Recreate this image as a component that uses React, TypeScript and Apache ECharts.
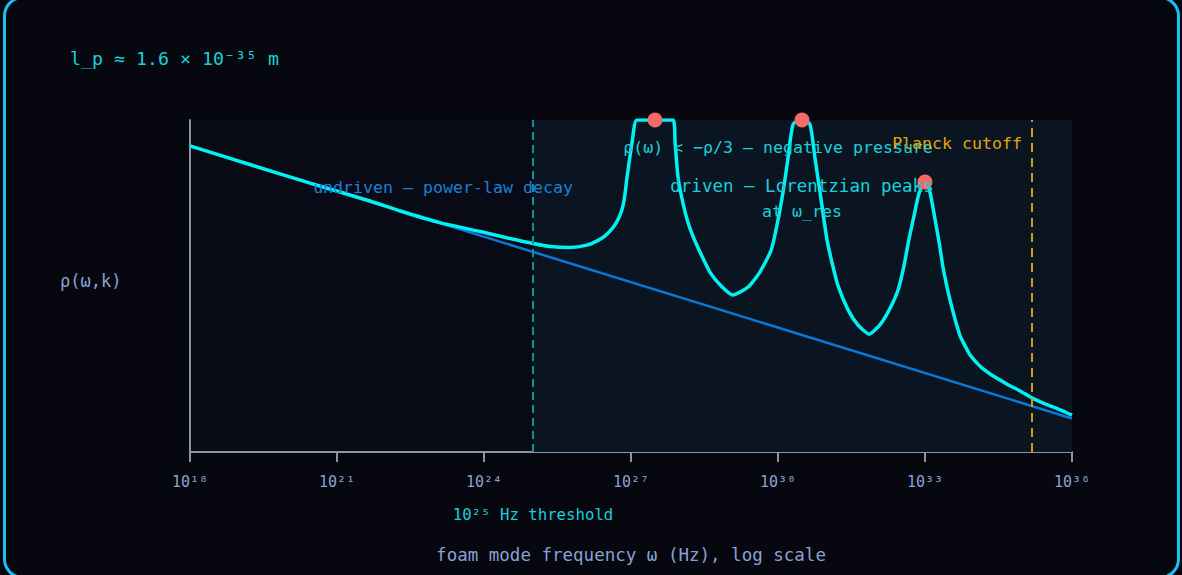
import React, { useEffect, useRef } from 'react';
import * as echarts from 'echarts';

// x = log10(ω / Hz), y = relative spectral density (arbitrary units, 0..100)
const xTicks = [18, 21, 24, 27, 30, 33, 36];
const xTickLabels = ['10¹⁸', '10²¹', '10²⁴', '10²⁷', '10³⁰', '10³³', '10³⁶'];

const undriven: [number, number][] = [
  [18, 92.2],
  [36, 10.1],
];

const driven: [number, number][] = [
  [18, 92.2], [19.22, 86.6], [20.45, 81.0], [21.67, 75.6], [22.29, 72.6],
  [23.1, 69.1], [23.92, 66.4], [24.53, 64.3], [25.0, 62.8], [25.35, 61.9],
  [25.76, 61.6], [26.1, 62.3], [26.31, 63.6], [26.47, 65.1], [26.61, 67.2],
  [26.71, 69.3], [26.8, 72.3], [26.86, 75.9], [26.92, 82.8], [27.02, 93.1],
  [27.12, 100], [27.49, 100], [27.86, 100], [27.9, 93.1], [27.96, 82.8],
  [28.06, 75.0], [28.16, 69.3], [28.27, 64.8], [28.41, 60.2], [28.61, 54.2],
  [28.84, 50.0], [29.08, 47.3], [29.39, 49.7], [29.63, 54.2], [29.86, 60.8],
  [29.98, 68.4], [30.1, 78.0], [30.2, 88.0], [30.31, 98.8], [30.49, 100],
  [30.65, 98.8], [30.76, 88.0], [30.86, 78.0], [31.0, 63.9], [31.1, 57.2],
  [31.22, 50.3], [31.43, 42.8], [31.63, 38.3], [31.86, 35.5], [32.08, 38.3],
  [32.27, 42.8], [32.45, 48.8], [32.57, 56.0], [32.67, 63.9], [32.78, 71.4],
  [32.88, 78.0], [33.0, 81.6], [33.1, 78.3], [33.2, 70.5], [33.29, 63.0],
  [33.37, 55.4], [33.51, 45.8], [33.71, 35.2], [33.82, 31.9], [33.92, 29.2],
  [34.12, 25.9], [34.33, 23.5], [34.53, 21.7], [34.74, 19.9], [34.94, 18.4],
  [35.18, 16.3], [35.45, 14.5], [35.76, 12.7], [36.0, 11.1],
];

const peaks: [number, number][] = [
  [27.49, 100],
  [30.49, 100],
  [33.0, 81.3],
];

const thresholdLog = 25;
const planckLog = 35.18;

const FONT = '"DejaVu Sans Mono", "Liberation Mono", monospace';
const CYAN_TEXT = '#19d0dc';
const AXIS_TEXT = '#8ba1d2';
const AXIS_LINE = '#8c95a8';

export default function App() {
  const chartRef = useRef<HTMLDivElement>(null);

  useEffect(() => {
    if (!chartRef.current) return;
    const chart = echarts.init(chartRef.current, undefined, { renderer: 'svg' });

    const text = (
      x: number,
      y: number,
      t: string,
      fill: string,
      fontSize: number,
      align: 'left' | 'center' | 'right' = 'left',
    ) => ({
      type: 'text',
      x,
      y,
      z: 50,
      style: {
        text: t,
        fill,
        fontSize,
        fontFamily: FONT,
        align,
        verticalAlign: 'middle',
      },
    });

    chart.setOption({
      animation: false,
      backgroundColor: 'transparent',
      grid: {
        left: 190,
        right: 110,
        top: 120,
        bottom: 123,
        show: true,
        backgroundColor: '#080a16',
        borderWidth: 0,
      },
      xAxis: {
        type: 'value',
        min: 18,
        max: 36,
        interval: 3,
        axisLine: { show: true, onZero: false, lineStyle: { color: AXIS_LINE, width: 2 } },
        axisTick: { show: true, length: 10, lineStyle: { color: AXIS_LINE, width: 2 } },
        splitLine: { show: false },
        axisLabel: {
          color: AXIS_TEXT,
          fontSize: 15,
          fontFamily: FONT,
          margin: 22,
          formatter: (v: number) => {
            const i = xTicks.indexOf(Math.round(v));
            return i >= 0 ? xTickLabels[i] : '';
          },
        },
      },
      yAxis: {
        type: 'value',
        min: 0,
        max: 100,
        axisLine: { show: true, lineStyle: { color: AXIS_LINE, width: 2 } },
        axisTick: { show: false },
        axisLabel: { show: false },
        splitLine: { show: false },
      },
      series: [
        {
          name: 'undriven',
          type: 'line',
          data: undriven,
          symbol: 'none',
          z: 3,
          lineStyle: { color: '#0b78d6', width: 2.5 },
          markArea: {
            silent: true,
            itemStyle: { color: '#0a1521' },
            data: [[{ xAxis: thresholdLog }, { xAxis: 36 }]],
          },
          markLine: {
            silent: true,
            symbol: 'none',
            label: { show: false },
            data: [
              { xAxis: thresholdLog, lineStyle: { color: '#11909c', width: 2, type: [8, 5] } },
              { xAxis: planckLog, lineStyle: { color: '#d69c10', width: 2, type: [9, 6] } },
            ],
          },
        },
        {
          name: 'driven',
          type: 'line',
          data: driven,
          symbol: 'none',
          smooth: 0.2,
          z: 4,
          lineStyle: { color: '#00f2f2', width: 3.5 },
        },
        {
          name: 'ω_res',
          type: 'scatter',
          data: peaks,
          symbolSize: 15,
          z: 5,
          itemStyle: { color: '#f36a6a', opacity: 1 },
        },
      ],
      graphic: [
        text(70, 58, 'l_p ≈ 1.6 × 10⁻³⁵ m', CYAN_TEXT, 18.3),
        text(60, 281, 'ρ(ω,k)', AXIS_TEXT, 17),
        text(443, 187, 'undriven — power-law decay', '#1b80d6', 16.6, 'center'),
        text(778, 147, 'ρ(ω) < −ρ/3 — negative pressure', CYAN_TEXT, 16.6, 'center'),
        text(802, 186, 'driven — Lorentzian peaks', CYAN_TEXT, 17.5, 'center'),
        text(802, 211, 'at ω_res', CYAN_TEXT, 16.6, 'center'),
        text(1022, 143, 'Planck cutoff', '#e0a50c', 16.6, 'right'),
        text(533, 514, '10²⁵ Hz threshold', CYAN_TEXT, 15.7, 'center'),
        text(631, 555, 'foam mode frequency ω (Hz), log scale', AXIS_TEXT, 17.5, 'center'),
      ],
    });

    return () => {
      chart.dispose();
    };
  }, []);

  return (
    <div
      style={{
        position: 'fixed',
        left: 0,
        top: 0,
        width: 1182,
        height: 575,
        overflow: 'hidden',
        background: '#06070f',
      }}
    >
      <div ref={chartRef} style={{ position: 'absolute', left: 0, top: 0, width: 1182, height: 575 }} />
      <div
        style={{
          position: 'absolute',
          left: 3,
          top: -4,
          width: 1177,
          height: 583,
          boxSizing: 'border-box',
          border: '3px solid #17c2ef',
          borderRadius: 20,
          pointerEvents: 'none',
        }}
      />
    </div>
  );
}
